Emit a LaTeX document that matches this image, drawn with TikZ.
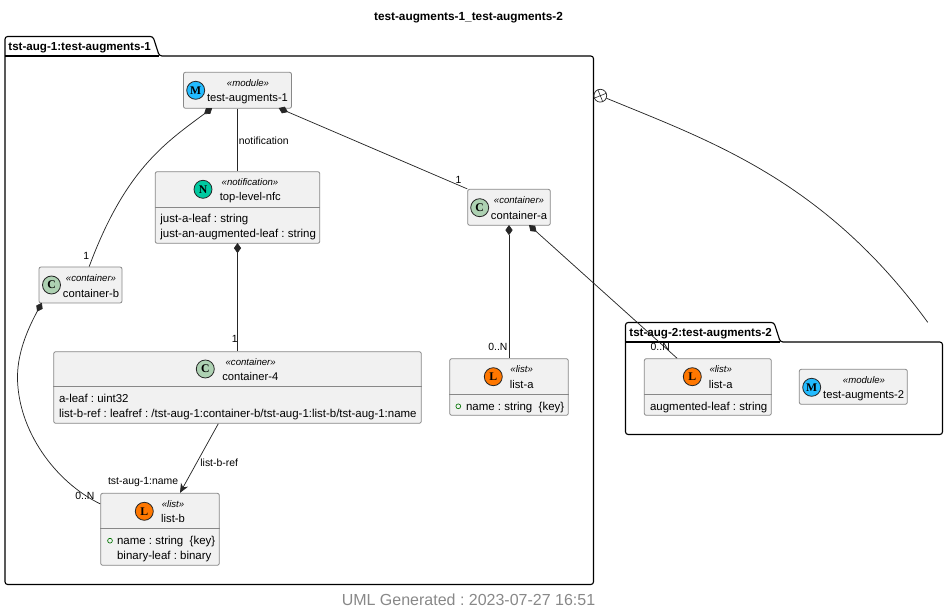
\documentclass[tikz,border=0pt]{standalone}
\usepackage{fontspec}
\setmainfont{Liberation Sans}
\newfontfamily\spotfont{Liberation Serif}
\usetikzlibrary{arrows.meta}
\frenchspacing

\definecolor{boxfill}{HTML}{F1F1F1}
\definecolor{boxline}{HTML}{888888}
\definecolor{spotM}{HTML}{22BBFF}
\definecolor{spotN}{HTML}{00C9A0}
\definecolor{spotC}{HTML}{ADD1B2}
\definecolor{spotL}{HTML}{FF7700}

\tikzset{
	every picture/.style={line width=0.6pt},
	classbox/.style 2 args={draw=boxline,fill=boxfill,rounded corners=1.5pt,inner sep=0pt,minimum width=#1*0.75pt,minimum height=#2*0.75pt},
	divider/.style={draw=boxline},
	spot/.style={circle,draw=black!85,line width=0.6pt,fill=#1,inner sep=0pt,minimum size=13.5pt,font=\spotfont\bfseries\fontsize{8.8}{8.8}\selectfont},
	stereo/.style={anchor=base,inner sep=0pt,font=\itshape\fontsize{7.2}{8}\selectfont},
	classname/.style={anchor=base,inner sep=0pt,font=\fontsize{8.4}{10}\selectfont},
	member/.style={anchor=base west,inner sep=0pt,font=\fontsize{8.6}{10}\selectfont},
	keymark/.style={circle,draw=green!45!black,line width=0.5pt,inner sep=0pt,minimum size=3.6pt},
	edgelabel/.style={anchor=base west,inner sep=0pt,font=\fontsize{7.8}{9}\selectfont},
	package/.style={draw=black,line width=0.85pt,rounded corners=2pt},
	pkgtitle/.style={anchor=base west,inner sep=0pt,font=\bfseries\fontsize{8.7}{10}\selectfont},
	conn/.style={draw=black!85,line width=0.55pt},
	comp/.style={conn,{Diamond[length=7.6pt,width=5.4pt]}-},
	ref/.style={conn,-{Stealth[length=7pt,width=6pt,inset=2.2pt]}},
	nestmark/.style={circle,draw=black!85,line width=0.55pt,inner sep=0pt,minimum size=9.6pt,path picture={
		\draw [black!85,line width=0.45pt] (path picture bounding box.center) ++(22:8pt) -- ++(202:16pt) (path picture bounding box.center) ++(112:8pt) -- ++(292:16pt);}}
}

\begin{document}
\begin{tikzpicture}[x=0.75pt,y=0.75pt,yscale=-1,xscale=1]
	\useasboundingbox (0,0) rectangle (947,616);

	% Title
	\node (title) [anchor=base,inner sep=0pt,font=\bfseries\fontsize{8.85}{10}\selectfont] at (468.5,20.5) {test-augments-1\_test-augments-2};

	% Package tst-aug-1
	\draw [package] (5,56) -- (5,36.5) -- (153,36.5) -- (159.3,56) -- (593.5,56) -- (593.5,584.5) -- (5,584.5) -- cycle;
	\draw [package,rounded corners=0pt] (5,56) -- (159.3,56);
	\node (pkgone) [pkgtitle] at (8,51) {tst-aug-1:test-augments-1};

	% Package tst-aug-2
	\draw [package] (625.5,342) -- (625.5,322.5) -- (774,322.5) -- (780.3,342) -- (942.5,342) -- (942.5,434.5) -- (625.5,434.5) -- cycle;
	\draw [package,rounded corners=0pt] (625.5,342) -- (780.3,342);
	\node (pkgtwo) [pkgtitle] at (629,337) {tst-aug-2:test-augments-2};

	% Module test-augments-1
	\node (modone) [classbox={108}{36}] at (237.5,90.3) {};
	\node (modonespot) [spot=spotM] at (195.7,90.3) {M};
	\node (modonetype) [stereo] at (248,87) {«module»};
	\node (modonename) [classname] at (247.5,102) {test-augments-1};

	% Notification top-level-nfc
	\node (nfc) [classbox={164.6}{71.6}] at (237.5,207.5) {};
	\draw [divider] (nfc.west |- 0,207.3) -- (nfc.east |- 0,207.3);
	\node (nfcspot) [spot=spotN] at (203,189.3) {N};
	\node (nfctype) [stereo] at (250,186) {«notification»};
	\node (nfcname) [classname] at (250.3,201) {top-level-nfc};
	\node (nfcleafa) [member] at (160,223) {just-a-leaf : string};
	\node (nfcleafb) [member] at (160,238) {just-an-augmented-leaf : string};

	% Container container-a
	\node (conta) [classbox={82.6}{36}] at (509,207.3) {};
	\node (contaspot) [spot=spotC] at (479.7,207.7) {C};
	\node (contatype) [stereo] at (519,204) {«container»};
	\node (contaname) [classname] at (519,219.3) {container-a};

	% Container container-b
	\node (contb) [classbox={83}{36}] at (80.5,285) {};
	\node (contbspot) [spot=spotC] at (51.5,285) {C};
	\node (contbtype) [stereo] at (91,282) {«container»};
	\node (contbname) [classname] at (91,297.3) {container-b};

	% Container container-4
	\node (contf) [classbox={367.6}{71.6}] at (237.5,387.5) {};
	\draw [divider] (contf.west |- 0,386.3) -- (contf.east |- 0,386.3);
	\node (contfspot) [spot=spotC] at (205.3,369) {C};
	\node (contftype) [stereo] at (250.7,365.5) {«container»};
	\node (contfname) [classname] at (250.3,380.3) {container-4};
	\node (contfleafa) [member] at (58.7,402.3) {a-leaf : uint32};
	\node (contfleafb) [member] at (58.7,417.3) {list-b-ref : leafref : /tst-aug-1:container-b/tst-aug-1:list-b/tst-aug-1:name};

	% List list-b
	\node (listb) [classbox={118.6}{72}] at (160,529.3) {};
	\draw [divider] (listb.west |- 0,528.3) -- (listb.east |- 0,528.3);
	\node (listbspot) [spot=spotL] at (144.3,511.3) {L};
	\node (listbtype) [stereo] at (173,507.5) {«list»};
	\node (listbname) [classname] at (173,522.3) {list-b};
	\node (listbkey) [keymark] at (110,540.7) {};
	\node (listbleafa) [member] at (116.7,544.7) {name : string~~\{key\}};
	\node (listbleafb) [member] at (116.7,559.3) {binary-leaf : binary};

	% List list-a
	\node (lista) [classbox={118.6}{56.6}] at (509,387) {};
	\draw [divider] (lista.west |- 0,394.3) -- (lista.east |- 0,394.3);
	\node (listaspot) [spot=spotL] at (493.3,376.7) {L};
	\node (listatype) [stereo] at (521.7,373) {«list»};
	\node (listaname) [classname] at (521.7,388.3) {list-a};
	\node (listakey) [keymark] at (458.3,406.3) {};
	\node (listaleaf) [member] at (465.7,410.3) {name : string~~\{key\}};

	% List list-a (augmented)
	\node (augl) [classbox={127}{56.6}] at (707.8,387) {};
	\draw [divider] (augl.west |- 0,394.3) -- (augl.east |- 0,394.3);
	\node (auglspot) [spot=spotL] at (692.3,376.7) {L};
	\node (augltype) [stereo] at (720.7,373) {«list»};
	\node (auglname) [classname] at (720.7,388.3) {list-a};
	\node (auglleaf) [member] at (649.7,410.3) {augmented-leaf : string};

	% Module test-augments-2
	\node (modtwo) [classbox={108}{35}] at (853.3,386.8) {};
	\node (modtwospot) [spot=spotM] at (811.7,387.3) {M};
	\node (modtwotype) [stereo] at (864,384) {«module»};
	\node (modtwoname) [classname] at (863.7,399) {test-augments-2};

	% Connectors
	\draw [comp] ([xshift=-19pt,yshift=-0.5pt]modone.south) .. controls (165,143) and (125,170) .. ([xshift=6.5pt]contb.north);
	\draw [conn] (modone.south) -- (nfc.north);
	\draw [comp] ([xshift=30.9pt,yshift=-0.5pt]modone.south) -- (conta.north west);
	\draw [comp] ([yshift=-0.5pt]nfc.south) -- (contf.north);
	\draw [comp] ([yshift=-0.5pt]conta.south) -- (lista.north);
	\draw [comp] ([xshift=15pt,yshift=-0.5pt]conta.south) -- ([xshift=-23pt]augl.north);
	\draw [comp] ([xshift=-29pt,yshift=-0.5pt]contb.south) .. controls (30,325) and (17.5,350) .. (17.5,377) .. controls (17.5,430) and (55,482) .. ([yshift=8.25pt]listb.north west);
	\draw [ref] ([xshift=-14.4pt]contf.south) -- ([xshift=15pt]listb.north);

	% Nesting mark
	\node (nest) [nestmark] at (600.3,95.7) {};
	\coordinate (nestend) at (927.7,322.3);
	\draw [conn] (nest) .. controls (710,141) and (824,180) .. (nestend);

	% Connector labels
	\node (lblnotif) [edgelabel] at (238.5,145) {notification};
	\node (lblref) [edgelabel] at (200,466.5) {list-b-ref};
	\node (lblkey) [edgelabel] at (107.7,485) {tst-aug-1:name};
	\node (lblbn) [edgelabel] at (75,499.5) {0..N};
	\node (lblbo) [edgelabel] at (83,259.5) {1};
	\node (lblfo) [edgelabel] at (231.5,342.5) {1};
	\node (lblao) [edgelabel] at (455.2,183.5) {1};
	\node (lblan) [edgelabel] at (488,350.5) {0..N};
	\node (lblrn) [edgelabel] at (650.3,350.5) {0..N};

	% Footer
	\node (footer) [anchor=base,inner sep=0pt,text=boxline,font=\fontsize{12}{14}\selectfont] at (468.5,606) {UML Generated : 2023-07-27 16:51};
\end{tikzpicture}
\end{document}
